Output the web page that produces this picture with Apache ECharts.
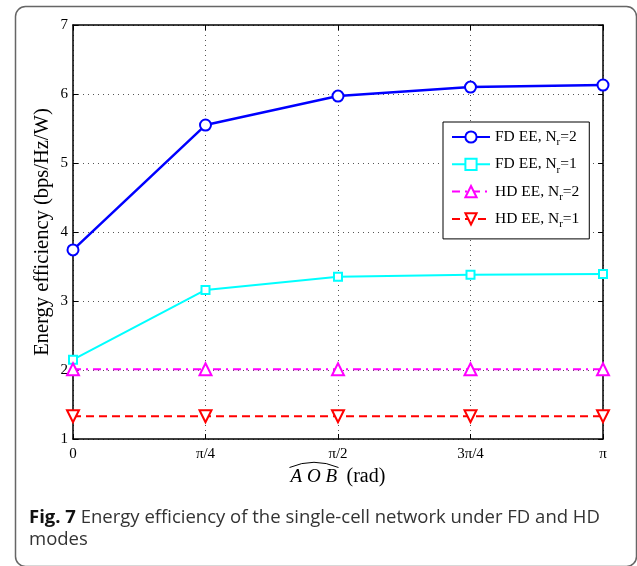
<!DOCTYPE html>
<html>
<head>
<meta charset="utf-8">
<script src="https://cdn.jsdelivr.net/npm/echarts@6/dist/echarts.min.js"></script>
<style>html,body{margin:0;padding:0;background:#fff;}#c{width:637px;height:566px;}</style>
</head>
<body>
<div id="c"></div>
<script>
const xCategories = ['0', 'π/4', 'π/2', '3π/4', 'π'];
const yTicks = [1, 2, 3, 4, 5, 6, 7];
const fdNr2 = [3.74, 5.55, 5.97, 6.10, 6.13];
const fdNr1 = [2.15, 3.16, 3.35, 3.38, 3.39];
const hdNr2 = [2.01, 2.01, 2.01, 2.01, 2.01];
const hdNr1 = [1.33, 1.33, 1.33, 1.33, 1.33];
const seriesNames = ['FD EE, Nr=2', 'FD EE, Nr=1', 'HD EE, Nr=2', 'HD EE, Nr=1'];
const legendLabels = ['FD EE, N{s|r}=2', 'FD EE, N{s|r}=1', 'HD EE, N{s|r}=2', 'HD EE, N{s|r}=1'];

const serif = '"Liberation Serif", "DejaVu Serif", serif';
const chart = echarts.init(document.getElementById('c'), null, {renderer: 'canvas'});

const axisLine = {show: true, lineStyle: {color: '#000', width: 1.5}};
const option = {
  animation: false,
  backgroundColor: '#fff',
  grid: {left: 73, right: 34, top: 25, bottom: 127},
  legend: {
    orient: 'vertical',
    left: 443, top: 122,
    padding: [4, 10, 9, 8],
    backgroundColor: '#fff',
    borderColor: '#000',
    borderWidth: 1,
    itemWidth: 38,
    itemHeight: 14,
    itemGap: 5.3,
    data: seriesNames,
    formatter: function (name) { return legendLabels[seriesNames.indexOf(name)]; },
    textStyle: {
      fontFamily: serif, fontSize: 15.5, color: '#000', lineHeight: 22,
      rich: {s: {fontFamily: serif, fontSize: 11, lineHeight: 11, verticalAlign: 'bottom', color: '#000'}}
    }
  },
  xAxis: [{
    type: 'category',
    data: xCategories,
    boundaryGap: false,
    axisLine: axisLine,
    axisTick: {show: true, inside: true, length: 5, lineStyle: {color: '#000'}},
    axisLabel: {fontFamily: serif, fontSize: 15, color: '#000', margin: 8},
    splitLine: {show: true, lineStyle: {color: '#555', type: [1, 4], width: 1}},
    name: '{i|A O B}  {r|(rad)}',
    nameLocation: 'middle',
    nameGap: 25,
    nameTextStyle: {
      fontFamily: serif, fontSize: 19,
      rich: {
        i: {fontFamily: serif, fontStyle: 'italic', fontSize: 19, color: '#000'},
        r: {fontFamily: serif, fontSize: 20, color: '#000'}
      }
    }
  }, {
    type: 'category',
    data: xCategories,
    boundaryGap: false,
    position: 'top',
    axisLine: axisLine,
    axisTick: {show: true, inside: true, length: 5, lineStyle: {color: '#000'}},
    axisLabel: {show: false},
    splitLine: {show: false}
  }],
  yAxis: [{
    type: 'value',
    min: 1, max: 7, interval: 1,
    axisLine: axisLine,
    axisTick: {show: true, inside: true, length: 5, lineStyle: {color: '#000'}},
    axisLabel: {fontFamily: serif, fontSize: 15, color: '#000', margin: 5},
    splitLine: {show: true, lineStyle: {color: '#555', type: [1, 4], width: 1}},
    name: 'Energy efficiency (bps/Hz/W)',
    nameLocation: 'middle',
    nameGap: 20,
    nameMoveOverlap: false,
    nameTextStyle: {fontFamily: serif, fontSize: 20.5, color: '#000'}
  }, {
    type: 'value',
    min: 1, max: 7, interval: 1,
    position: 'right',
    axisLine: axisLine,
    axisTick: {show: true, inside: true, length: 5, lineStyle: {color: '#000'}},
    axisLabel: {show: false},
    splitLine: {show: false}
  }],
  series: [
    {
      name: seriesNames[0], type: 'line', data: fdNr2,
      symbol: 'emptyCircle', symbolSize: 11, color: '#0000ff',
      lineStyle: {width: 2.5, color: '#0000ff'},
      itemStyle: {borderWidth: 2.2, color: '#0000ff'}
    },
    {
      name: seriesNames[1], type: 'line', data: fdNr1,
      symbol: 'emptyRect', symbolSize: 8, color: '#00ffff',
      lineStyle: {width: 2, color: '#00ffff'},
      itemStyle: {borderWidth: 2, color: '#00ffff'}
    },
    {
      name: seriesNames[2], type: 'line', data: hdNr2,
      symbol: 'emptyTriangle', symbolSize: 12, color: '#ff00ff',
      lineStyle: {width: 2, color: '#ff00ff', type: [8, 5, 2, 5]},
      itemStyle: {borderWidth: 2.2, color: '#ff00ff'}
    },
    {
      name: seriesNames[3], type: 'line', data: hdNr1,
      symbol: 'emptyTriangle', symbolRotate: 180, symbolSize: 12, color: '#ff0000',
      lineStyle: {width: 2, color: '#ff0000', type: [8, 5]},
      itemStyle: {borderWidth: 2.2, color: '#ff0000'}
    }
  ],
  graphic: [
    {
      type: 'rect', left: 13, top: 4, z: -10, silent: true,
      shape: {width: 621, height: 560, r: 10},
      style: {fill: 'none', stroke: '#666', lineWidth: 1.5}
    },
    {
      type: 'arc', silent: true, x: 0, y: 0,
      shape: {cx: 314, cy: 525, r: 62.5, startAngle: -Math.PI / 2 - 0.403, endAngle: -Math.PI / 2 + 0.403},
      style: {stroke: '#000', lineWidth: 1, fill: 'none'}
    },
    {
      type: 'text', left: 29, top: 507, silent: true,
      style: {
        text: '{b|Fig. 7} Energy efficiency of the single-cell network under FD and HD\nmodes',
        font: '18.5px "Open Sans", "Noto Sans", sans-serif',
        fill: '#333',
        lineHeight: 22,
        rich: {b: {fontFamily: '"Open Sans", "Noto Sans", sans-serif', fontSize: 18.5, fontWeight: 'bold', fill: '#111', lineHeight: 22}}
      }
    }
  ]
};
chart.setOption(option);
</script>
</body>
</html>
